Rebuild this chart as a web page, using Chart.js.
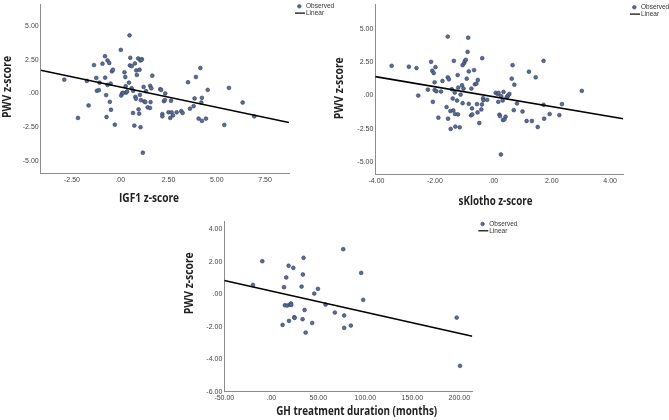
<!DOCTYPE html>
<html><head><meta charset="utf-8">
<script src="https://cdn.jsdelivr.net/npm/chart.js@4"></script>
<style>
html,body{margin:0;padding:0;background:#fff;width:669px;height:420px;overflow:hidden}
canvas{position:absolute;left:0;top:0}
</style></head>
<body>
<canvas id="c1" width="669" height="420"></canvas>
<canvas id="c2" width="669" height="420"></canvas>
<canvas id="c3" width="669" height="420"></canvas>
<script>
// ---- Chart 1: IGF1 z-score vs PWV z-score ----
const igf1Z = [-2.90,-2.19,-1.73,-1.64,-1.36,-1.24,-1.21,-1.11,-1.07,-0.92,-0.79,-0.78,-0.73,-0.71,-0.66,-0.66,-0.57,-0.54,-0.50,-0.48,-0.43,-0.38,-0.28,0.03,0.05,0.10,0.16,0.22,0.26,0.28,0.31,0.35,0.45,0.48,0.52,0.50,0.59,0.60,0.66,0.67,0.73,0.76,0.78,0.81,0.83,0.86,0.93,0.95,0.98,1.00,1.02,1.04,1.05,1.07,1.12,1.09,1.21,1.24,1.17,1.33,1.30,1.42,1.54,1.55,1.57,1.61,1.66,2.07,2.12,2.18,2.18,2.26,2.31,2.33,2.50,2.59,2.63,2.66,2.73,2.92,3.16,3.23,3.51,3.61,3.80,3.85,3.92,4.06,4.15,4.20,4.23,4.23,4.44,4.53,5.39,5.63,6.34,6.94];
const igf1Pwv = [1.03,-1.82,0.94,-0.89,2.12,1.16,0.20,0.25,0.81,2.22,2.78,1.18,-0.12,-1.75,2.46,0.64,2.27,-0.62,0.74,-1.21,1.65,1.77,-2.32,3.25,-0.15,0.02,0.05,1.58,1.23,0.54,0.07,0.15,0.81,4.33,2.66,2.09,0.39,2.04,-1.45,0.20,-2.39,2.24,-0.25,-0.39,1.72,1.38,2.61,-1.18,-1.50,1.77,-0.10,2.46,-2.51,-0.49,2.56,2.50,0.49,-0.59,-4.41,0.17,-0.64,-1.03,-1.08,0.57,-0.64,0.39,1.33,0.32,0.27,-1.53,-1.70,-0.57,-0.49,0.00,-1.40,-1.82,-0.54,-1.40,-1.63,-1.40,-1.31,-1.45,0.84,-1.13,-0.94,-0.37,1.23,-1.87,1.90,-0.67,-2.04,-0.32,-1.87,0.27,-2.34,0.42,-0.67,-1.70];
const fit1X = [-4.12, 8.74];
const fit1Y = [1.73, -2.16];
const ticks1X = [-2.5, 0, 2.5, 5, 7.5];
const ticks1Y = [-5, -2.5, 0, 2.5, 5];

// ---- Chart 2: sKlotho z-score vs PWV z-score ----
const klothoZ = [-3.48,-2.89,-2.63,-2.57,-2.24,-2.13,-2.09,-2.07,-2.04,-2.01,-1.98,-2.01,-1.95,-1.88,-1.79,-1.74,-1.60,-1.56,-1.56,-1.55,-1.52,-1.47,-1.46,-1.42,-1.39,-1.37,-1.35,-1.32,-1.31,-1.30,-1.24,-1.22,-1.21,-1.20,-1.15,-1.12,-1.07,-1.05,-1.05,-1.02,-1.00,-0.97,-0.94,-0.91,-0.88,-0.86,-0.84,-0.84,-0.76,-0.75,-0.73,-0.72,-0.66,-0.63,-0.58,-0.56,-0.53,-0.54,-0.48,-0.41,-0.39,-0.38,-0.35,-0.34,-0.21,0.08,0.15,0.17,0.18,0.21,0.23,0.26,0.27,0.32,0.33,0.35,0.38,0.42,0.46,0.49,0.51,0.55,0.63,0.66,0.70,0.72,0.81,1.00,1.14,1.22,1.32,1.45,1.52,1.72,1.72,1.74,1.93,2.26,2.35,3.03];
const klothoPwv = [2.22,2.15,2.05,0.00,0.44,2.52,1.85,-0.47,1.68,0.42,2.12,0.99,0.32,-1.65,0.30,1.09,-0.86,4.40,1.36,-1.73,1.21,-1.16,-2.49,0.47,-0.22,-1.11,2.59,0.22,-1.38,-2.32,-0.37,1.53,-1.41,0.59,-2.37,0.07,0.77,-0.57,2.27,0.52,2.42,2.59,2.67,1.26,3.26,4.32,1.80,-0.62,-1.48,0.52,-0.96,-1.41,1.90,0.84,0.89,-0.64,1.16,-1.26,-2.05,-1.04,-0.67,2.79,-0.20,-0.35,-0.32,0.20,0.12,-0.47,0.20,-1.43,-1.53,-4.40,-0.05,-0.37,-1.83,0.27,-1.78,-1.58,-0.12,-0.05,0.02,0.12,1.26,2.27,-1.09,0.81,-0.59,-1.19,-1.90,1.78,-1.90,1.36,-2.35,2.59,-0.69,-1.73,-1.38,-1.46,-0.64,0.35];
const fit2X = [-4.04, 4.45];
const fit2Y = [1.41, -1.73];
const ticks2X = [-4, -2, 0, 2, 4];
const ticks2Y = [-5, -2.5, 0, 2.5, 5];

// ---- Chart 3: GH treatment duration vs PWV z-score ----
const ghMonths = [-19.5,-9.6,12.0,13.5,14.5,15.9,17.0,18.4,18.8,19.8,20.9,21.2,23.4,24.4,24.8,32.2,33.3,33.6,34.3,35.4,36.5,43.5,45.7,49.6,57.7,67.6,76.5,77.5,77.5,84.6,95.6,97.7,197.2,200.7];
const ghPwv = [0.57,2.03,-1.89,0.43,-0.68,1.03,-0.70,1.75,-1.64,-0.64,-0.57,-0.66,1.62,-1.42,-1.46,0.47,-1.54,1.21,2.24,-0.97,-2.36,-1.77,0.04,0.33,-0.64,-1.13,2.77,-1.31,-2.07,-1.93,1.31,-0.35,-1.44,-4.41];
const fit3X = [-50, 213.8];
const fit3Y = [0.84, -2.59];
const ticks3X = [-50, 0, 50, 100, 150, 200];
const ticks3Y = [-6, -4, -2, 0, 2, 4];

const legendLabels = ['Observed', 'Linear'];

function fmt(v) {
  let s = Math.abs(v).toFixed(2);
  if (s.startsWith('0')) s = s.slice(1);
  return (v < 0 ? '-' : '') + s;
}

const POINT_FILL = '#5a6b96';
const POINT_EDGE = '#34405f';
const AXIS_COLOR = '#8c8c8c';
const TICK_FONT = {family: "'Liberation Sans', Arial, sans-serif", size: 7};

const decor = {
  id: 'decor',
  afterDraw(chart, args, o) {
    const ctx = chart.ctx;
    ctx.save();
    ctx.fillStyle = '#222';
    ctx.font = "bold 12px 'Open Sans', sans-serif";
    ctx.textAlign = 'center';
    ctx.textBaseline = 'middle';
    // x title
    let w = ctx.measureText(o.xTitle).width;
    ctx.save();
    ctx.translate(o.xTitlePos[0], o.xTitlePos[1]);
    ctx.scale(o.xTitleW / w, 1);
    ctx.fillText(o.xTitle, 0, 0);
    ctx.restore();
    // y title
    w = ctx.measureText(o.yTitle).width;
    ctx.save();
    ctx.translate(o.yTitlePos[0], o.yTitlePos[1]);
    ctx.rotate(-Math.PI / 2);
    ctx.scale(o.yTitleW / w, 1);
    ctx.fillText(o.yTitle, 0, 0);
    ctx.restore();
    // legend
    const [lx, ly] = o.legend;
    ctx.beginPath();
    ctx.arc(lx + 4.3, ly, 1.8, 0, Math.PI * 2);
    ctx.fillStyle = POINT_FILL;
    ctx.fill();
    ctx.strokeStyle = POINT_EDGE;
    ctx.lineWidth = 0.6;
    ctx.stroke();
    ctx.beginPath();
    ctx.moveTo(lx, ly + 6.8);
    ctx.lineTo(lx + 10, ly + 6.8);
    ctx.strokeStyle = '#000';
    ctx.lineWidth = 1.2;
    ctx.stroke();
    ctx.fillStyle = '#333';
    ctx.font = "6.5px 'Liberation Sans', Arial, sans-serif";
    ctx.textAlign = 'left';
    ctx.fillText(legendLabels[0], lx + 11, ly);
    ctx.fillText(legendLabels[1], lx + 11, ly + 6.8);
    ctx.restore();
  }
};

function makeChart(id, cfg) {
  const pts = cfg.xs.map((x, i) => ({x: x, y: cfg.ys[i]}));
  const line = cfg.fitX.map((x, i) => ({x: x, y: cfg.fitY[i]}));
  const Y_W = 40, X_H = 20;
  const a = cfg.area;
  new Chart(document.getElementById(id), {
    type: 'scatter',
    data: {
      datasets: [
        {type: 'line', label: legendLabels[1], data: line, borderColor: '#000', borderWidth: 1.6,
         pointRadius: 0, fill: false, order: 0},
        {label: legendLabels[0], data: pts, backgroundColor: POINT_FILL, borderColor: POINT_EDGE,
         borderWidth: 0.6, pointRadius: 1.9, order: 1}
      ]
    },
    options: {
      responsive: false, animation: false, events: [],
      layout: {padding: {left: a[0] - Y_W, top: a[1], right: 669 - a[2], bottom: 420 - a[3] - X_H}},
      plugins: {
        legend: {display: false}, tooltip: {enabled: false},
        decor: cfg.decor
      },
      scales: {
        x: {
          type: 'linear', min: cfg.xr[0], max: cfg.xr[1],
          afterBuildTicks: s => { s.ticks = cfg.tx.map(v => ({value: v})); },
          afterFit: s => { s.height = X_H; s.paddingLeft = 0; s.paddingRight = 0; },
          ticks: {callback: fmt, font: TICK_FONT, color: '#444', padding: cfg.xPad, maxRotation: 0, autoSkip: false},
          grid: {display: false, drawTicks: false},
          border: {color: AXIS_COLOR, width: 1}
        },
        y: {
          type: 'linear', min: cfg.yr[0], max: cfg.yr[1],
          afterBuildTicks: s => { s.ticks = cfg.ty.map(v => ({value: v})); },
          afterFit: s => { s.width = Y_W; s.paddingTop = 0; s.paddingBottom = 0; },
          ticks: {callback: fmt, font: TICK_FONT, color: '#444', padding: 2, autoSkip: false},
          grid: {display: false, drawTicks: false},
          border: {color: AXIS_COLOR, width: 1}
        }
      }
    },
    plugins: [decor]
  });
}

makeChart('c1', {
  xs: igf1Z, ys: igf1Pwv, fitX: fit1X, fitY: fit1Y, tx: ticks1X, ty: ticks1Y,
  area: [40.7, 3, 289, 173], xr: [-4.12, 8.74], yr: [-5.92, 6.62], xPad: 3,
  decor: {xTitle: 'IGF1 z-score', xTitlePos: [149, 199], xTitleW: 60,
          yTitle: 'PWV z-score', yTitlePos: [7.5, 87], yTitleW: 62, legend: [295, 6.3]}
});
makeChart('c2', {
  xs: klothoZ, ys: klothoPwv, fitX: fit2X, fitY: fit2Y, tx: ticks2X, ty: ticks2Y,
  area: [375.3, 3.3, 623.3, 174.3], xr: [-4.04, 4.45], yr: [-5.88, 6.79], xPad: 3,
  decor: {xTitle: 'sKlotho z-score', xTitlePos: [495.5, 201.7], xTitleW: 74,
          yTitle: 'PWV z-score', yTitlePos: [340, 88.3], yTitleW: 62, legend: [630, 7.3]}
});
makeChart('c3', {
  xs: ghMonths, ys: ghPwv, fitX: fit3X, fitY: fit3Y, tx: ticks3X, ty: ticks3Y,
  area: [224.3, 221.7, 472.3, 391.7], xr: [-50, 213.8], yr: [-6, 4.46], xPad: 2,
  decor: {xTitle: 'GH treatment duration (months)', xTitlePos: [356.7, 411.7], xTitleW: 161,
          yTitle: 'PWV z-score', yTitlePos: [190, 283.3], yTitleW: 62, legend: [478.3, 224]}
});
</script>
</body></html>
